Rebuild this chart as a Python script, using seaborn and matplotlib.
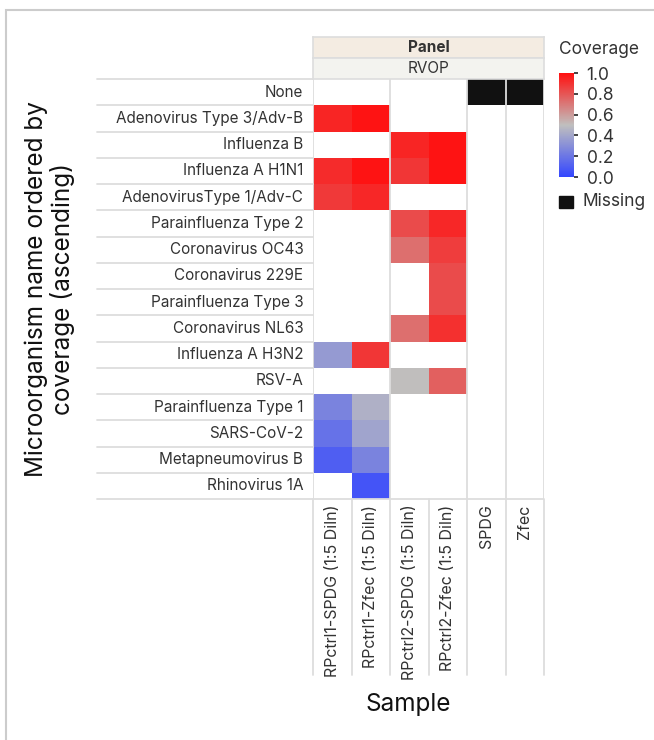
import numpy as np
import pandas as pd
import matplotlib
matplotlib.use("Agg")
import matplotlib.pyplot as plt
import seaborn as sns
from matplotlib.colors import LinearSegmentedColormap, ListedColormap, Normalize
from matplotlib.cm import ScalarMappable
from matplotlib.patches import Rectangle
from matplotlib.transforms import blended_transform_factory

# ── Data ──
organisms = [
    "None", "Adenovirus Type 3/Adv-B", "Influenza B", "Influenza A H1N1",
    "AdenovirusType 1/Adv-C", "Parainfluenza Type 2", "Coronavirus OC43",
    "Coronavirus 229E", "Parainfluenza Type 3", "Coronavirus NL63",
    "Influenza A H3N2", "RSV-A", "Parainfluenza Type 1", "SARS-CoV-2",
    "Metapneumovirus B", "Rhinovirus 1A",
]
samples = [
    "RPctrl1-SPDG (1:5 Diln)", "RPctrl1-Zfec (1:5 Diln)",
    "RPctrl2-SPDG (1:5 Diln)", "RPctrl2-Zfec (1:5 Diln)", "SPDG", "Zfec",
]
nan = np.nan
rpctrl1_spdg = [nan, 0.94, nan, 0.92, 0.88, nan, nan, nan, nan, nan, 0.35, nan, 0.25, 0.18, 0.10, nan]
rpctrl1_zfec = [nan, 0.99, nan, 0.99, 0.93, nan, nan, nan, nan, nan, 0.89, nan, 0.44, 0.39, 0.25, 0.06]
rpctrl2_spdg = [nan, nan, 0.94, 0.89, nan, 0.83, 0.73, nan, nan, 0.73, nan, 0.50, nan, nan, nan, nan]
rpctrl2_zfec = [nan, nan, 0.99, 0.99, nan, 0.93, 0.87, 0.83, 0.83, 0.91, nan, 0.77, nan, nan, nan, nan]
spdg = [nan] * 16
zfec = [nan] * 16
missing_cells = [("None", "SPDG"), ("None", "Zfec")]

panel_title = "Panel"
panel_name = "RVOP"

W, H = 654, 740


def box(x0, y0, x1, y1):
    return [x0 / W, 1 - y1 / H, (x1 - x0) / W, (y1 - y0) / H]


sns.set_theme(style="white")
plt.rcParams['font.family'] = ['Inter', 'DejaVu Sans']
TXT = '#333333'
GRID = '#dddddd'

df = pd.DataFrame(dict(zip(samples, [rpctrl1_spdg, rpctrl1_zfec, rpctrl2_spdg,
                                     rpctrl2_zfec, spdg, zfec])), index=organisms)
miss = pd.DataFrame(np.nan, index=organisms, columns=samples)
for r, c in missing_cells:
    miss.loc[r, c] = 1.0

cmap = LinearSegmentedColormap.from_list(
    "cov", [(0.0, '#3346ff'), (0.5, '#c0bfbe'), (1.0, '#ff1010')])

fig = plt.figure(figsize=(W / 100, H / 100), dpi=100)

# outer frame
fig.add_artist(Rectangle((6 / W, -0.5), 2, 1.5 - 10 / H, transform=fig.transFigure,
                         fill=False, edgecolor='#cccccc', lw=1.5))

ax = fig.add_axes(box(313, 79, 544, 499))
sns.heatmap(df, ax=ax, cmap=cmap, vmin=0, vmax=1, cbar=False,
            xticklabels=samples, yticklabels=organisms)
sns.heatmap(miss, ax=ax, cmap=ListedColormap(['#111111']), vmin=0, vmax=1,
            cbar=False, xticklabels=samples, yticklabels=organisms)

ax.vlines([0, 2, 4, 5, 6], 0, len(organisms), colors=GRID, lw=1.3)
ax.hlines([len(organisms)], 0, len(samples), colors=GRID, lw=1.3, clip_on=False)

# row label boxes
ty = blended_transform_factory(ax.transAxes, ax.transData)
for i in range(len(organisms) + 1):
    ax.plot([-216 / 231, 0], [i, i], color=GRID, lw=1.3, transform=ty, clip_on=False)

# column label boxes
tx = blended_transform_factory(ax.transData, ax.transAxes)
for j in range(len(samples) + 1):
    ax.plot([j, j], [-176 / 420, 0], color=GRID, lw=1.3, transform=tx, clip_on=False)

ax.tick_params(axis='y', length=0, pad=7, labelsize=11, labelcolor=TXT)
ax.tick_params(axis='x', length=0, pad=4, labelsize=11.5, labelcolor=TXT)
plt.setp(ax.get_yticklabels(), rotation=0)
plt.setp(ax.get_xticklabels(), rotation=90)
ax.set_xlabel("")
ax.set_ylabel("")

# facet header
for (y0, y1, fc, txt, wt) in [(37, 58, '#f4ece2', panel_title, 'bold'),
                              (58, 79, '#f3f3ef', panel_name, 'normal')]:
    hax = fig.add_axes(box(313, y0, 544, y1))
    hax.set_facecolor(fc)
    hax.set_xticks([])
    hax.set_yticks([])
    for s in hax.spines.values():
        s.set_color(GRID)
        s.set_linewidth(1.2)
    hax.text(0.5, 0.5, txt, ha='center', va='center', fontsize=11,
             fontweight=wt, color=TXT, transform=hax.transAxes)

# axis titles
fig.text(408 / W, 1 - 705 / H, "Sample", ha='center', va='center', fontsize=17.5, color='#111')
fig.text(50 / W, 1 - 289 / H, "Microorganism name ordered by\ncoverage (ascending)",
         ha='center', va='center', rotation=90, fontsize=17.5, color='#111',
         linespacing=1.1)

# colour legend
cax = fig.add_axes(box(559, 73, 574, 177))
sm = ScalarMappable(norm=Normalize(0, 1), cmap=cmap)
ticks = [0.0, 0.2, 0.4, 0.6, 0.8, 1.0]
cb = fig.colorbar(sm, cax=cax, ticks=ticks)
cb.outline.set_visible(False)
cb.set_ticklabels([f"{t:.1f}" for t in ticks])
cax.tick_params(length=3, width=1.2, pad=6, labelsize=12.5, labelcolor=TXT)
for t, tk in zip(ticks, cax.yaxis.get_major_ticks()):
    tk.tick2line.set_color(cmap(t))
fig.text(559 / W, 1 - 50 / H, "Coverage", ha='left', va='center', fontsize=12.5, color=TXT)
fig.add_artist(Rectangle((559 / W, 1 - 208 / H), 14 / W, 12 / H,
                         transform=fig.transFigure, color='#111111'))
fig.text(583 / W, 1 - 202 / H, "Missing", ha='left', va='center', fontsize=12.5, color=TXT)

plt.savefig("out.png", dpi=100)
